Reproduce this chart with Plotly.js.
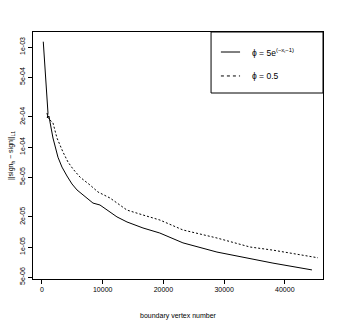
<!DOCTYPE html>
<html>
<head>
<meta charset="utf-8">
<script src="https://cdn.plot.ly/plotly-3.0.1.min.js"></script>
<style>
  body { margin: 0; background: #fff; }
  #chart { width: 340px; height: 320px; }
</style>
</head>
<body>
<div id="chart"></div>
<script>
// (x: vertex number, y: L1 error)
var xExp = [214, 494, 774, 939, 988, 873, 1153, 1318, 1812, 2635, 3294, 4118, 4941, 5765,
  8400, 9553, 12350, 14000, 16635, 19400, 23220, 28820, 34260, 38050, 44470];
var yExp = [1.13e-3, 5.9e-4, 3.2e-4, 2.34e-4, 2.19e-4, 1.95e-4, 2.04e-4, 1.78e-4, 1.23e-4,
  7.9e-5, 6.3e-5, 5.13e-5, 4.27e-5, 3.72e-5, 2.75e-5, 2.63e-5, 2.0e-5, 1.78e-5, 1.55e-5,
  1.38e-5, 1.10e-5, 8.9e-6, 7.6e-6, 6.9e-6, 5.9e-6];

var xConst = [823, 1000, 1812, 2470, 3460, 4282, 5106, 6259, 7906, 9223, 11200, 14000,
  16635, 19430, 23220, 28820, 34260, 38050, 45460];
var yConst = [2.19e-4, 1.95e-4, 1.74e-4, 1.23e-4, 8.9e-5, 7.08e-5, 6.03e-5, 5.0e-5, 4.17e-5,
  3.55e-5, 3.09e-5, 2.34e-5, 2.09e-5, 1.86e-5, 1.48e-5, 1.23e-5, 1.0e-5, 9.3e-6, 7.8e-6];

var seriesNames = ['ϕ = 5e<sup>(−x<sub>i</sub>−1)</sup>', 'ϕ = 0.5'];
var seriesDash = ['solid', '2px,2px'];

var yTicks = [5e-6, 1e-5, 2e-5, 5e-5, 1e-4, 2e-4, 5e-4, 1e-3];
var yTickText = ['5e-06', '1e-05', '2e-05', '5e-05', '1e-04', '2e-04', '5e-04', '1e-03'];
var xTicks = [0, 10000, 20000, 30000, 40000];

var font = {family: 'Liberation Sans, Arial, sans-serif', size: 7, color: '#000'};

var traces = [
  {x: xExp, y: yExp, type: 'scatter', mode: 'lines', name: seriesNames[0],
   line: {color: '#000', width: 1, dash: seriesDash[0]}},
  {x: xConst, y: yConst, type: 'scatter', mode: 'lines', name: seriesNames[1],
   line: {color: '#000', width: 1, dash: seriesDash[1]}}
];

// R style legend box, drawn by hand so it can be as wide as the original
var shapes = [{
  type: 'rect', xref: 'paper', yref: 'paper',
  x0: 0.614, x1: 1, y0: 0.753, y1: 1,
  line: {color: '#000', width: 1}, fillcolor: '#fff'
}];
var annotations = [];
var rowY = [0.919, 0.822];
for (var i = 0; i < seriesNames.length; i++) {
  shapes.push({
    type: 'line', xref: 'paper', yref: 'paper',
    x0: 0.648, x1: 0.714, y0: rowY[i], y1: rowY[i],
    line: {color: '#000', width: 1, dash: seriesDash[i] == 'solid' ? 'solid' : 'dot'}
  });
  annotations.push({
    xref: 'paper', yref: 'paper', x: 0.748, y: rowY[i],
    xanchor: 'left', yanchor: 'middle', showarrow: false,
    text: seriesNames[i],
    font: {family: font.family, size: 8.5, color: '#000'}
  });
}

var layout = {
  width: 340, height: 320,
  margin: {l: 33, r: 17, t: 32, b: 41},
  paper_bgcolor: '#fff', plot_bgcolor: '#fff',
  font: font,
  showlegend: false,
  shapes: shapes,
  annotations: annotations,
  xaxis: {
    range: [-1480, 46290],
    tickvals: xTicks, ticktext: xTicks.map(String),
    ticks: 'outside', ticklen: 4, tickcolor: '#000', tickwidth: 1,
    showline: true, mirror: true, linecolor: '#000', linewidth: 1,
    showgrid: false, zeroline: false,
    tickfont: font,
    title: {text: 'boundary vertex number', font: font, standoff: 20}
  },
  yaxis: {
    type: 'log',
    range: [-5.32, -2.85],
    tickvals: yTicks, ticktext: yTickText, tickangle: -90,
    ticks: 'outside', ticklen: 4, tickcolor: '#000', tickwidth: 1,
    showline: true, mirror: true, linecolor: '#000', linewidth: 1,
    showgrid: false, zeroline: false,
    tickfont: font,
    title: {text: '||sign<sub>h</sub> − sign||<sub>L1</sub>', font: font, standoff: 4}
  }
};

Plotly.newPlot('chart', traces, layout, {staticPlot: true});
</script>
</body>
</html>
